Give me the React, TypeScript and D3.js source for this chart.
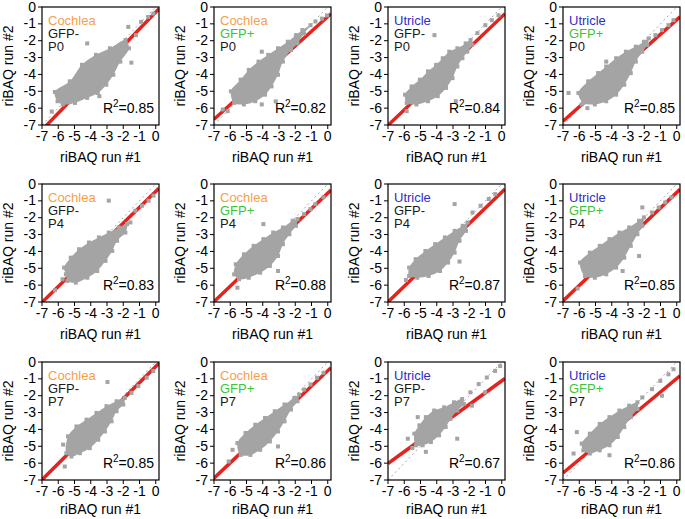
import * as d3 from 'd3'

// panel annotations, row by row
const tissue = ['Cochlea', 'Cochlea', 'Utricle', 'Utricle', 'Cochlea', 'Cochlea', 'Utricle', 'Utricle', 'Cochlea', 'Cochlea', 'Utricle', 'Utricle']
const gfp = ['GFP-', 'GFP+', 'GFP-', 'GFP+', 'GFP-', 'GFP+', 'GFP-', 'GFP+', 'GFP-', 'GFP+', 'GFP-', 'GFP+']
const stage = ['P0', 'P0', 'P0', 'P0', 'P4', 'P4', 'P4', 'P4', 'P7', 'P7', 'P7', 'P7']
const rSquared = ['0.85', '0.82', '0.84', '0.85', '0.83', '0.88', '0.87', '0.85', '0.85', '0.86', '0.67', '0.86']

// linear fit (red line)
const fitSlope = [1.0, 0.87, 0.92, 0.86, 0.94, 0.92, 0.93, 0.92, 0.96, 0.91, 0.7, 0.8]
const fitIntercept = [-0.3, -0.57, -0.58, -0.76, -0.44, -0.54, -0.49, -0.5, -0.27, -0.52, -1.12, -0.98]

const axisTicks = [-7, -6, -5, -4, -3, -2, -1, 0]

// outline of the dense point cloud in each panel (run #1, run #2)
const cloudOutlines: [number, number][][] = [
  [[-6.21, -5.04], [-5.29, -4.41], [-4.54, -3.43], [-3.68, -2.84], [-2.82, -2.45], [-1.86, -1.96], [-1.65, -2.45], [-2.18, -3.24], [-2.61, -4.02], [-3.04, -4.61], [-3.57, -5.1], [-4.22, -5.39], [-4.97, -5.69], [-5.72, -5.78], [-6.04, -5.59]],
  [[-5.96, -5.0], [-5.36, -4.31], [-4.86, -3.73], [-4.26, -3.24], [-3.66, -2.84], [-3.06, -2.45], [-2.46, -2.06], [-1.96, -1.67], [-1.56, -1.37], [-1.06, -1.08], [-1.46, -1.57], [-1.86, -2.16], [-2.26, -2.55], [-2.76, -3.24], [-3.06, -4.02], [-3.46, -4.71], [-3.86, -5.2], [-4.46, -5.59], [-5.16, -5.78], [-5.76, -5.69]],
  [[-5.95, -5.2], [-5.55, -4.71], [-5.04, -4.31], [-4.54, -3.82], [-4.04, -3.43], [-3.63, -3.04], [-3.23, -2.65], [-2.73, -2.45], [-2.22, -2.16], [-1.92, -1.96], [-1.82, -2.25], [-2.12, -2.65], [-2.42, -3.04], [-2.73, -3.53], [-3.03, -4.22], [-3.43, -4.8], [-3.94, -5.29], [-4.54, -5.59], [-5.25, -5.78], [-5.85, -5.69]],
  [[-6.05, -5.1], [-5.45, -4.41], [-4.84, -3.92], [-4.34, -3.53], [-3.73, -3.04], [-3.13, -2.65], [-2.52, -2.35], [-2.02, -2.06], [-1.72, -1.86], [-1.82, -2.25], [-2.12, -2.65], [-2.52, -3.24], [-2.83, -3.92], [-3.23, -4.61], [-3.73, -5.2], [-4.34, -5.59], [-5.04, -5.78], [-5.75, -5.69]],
  [[-5.64, -4.96], [-5.23, -4.37], [-4.72, -3.87], [-4.11, -3.47], [-3.5, -3.17], [-2.89, -2.88], [-2.27, -2.58], [-1.77, -2.38], [-1.87, -2.88], [-2.38, -3.37], [-2.68, -3.97], [-3.09, -4.56], [-3.6, -5.16], [-4.21, -5.56], [-4.92, -5.85], [-5.43, -5.75], [-5.53, -5.36]],
  [[-5.66, -4.76], [-5.16, -4.17], [-4.56, -3.67], [-3.96, -3.27], [-3.36, -2.88], [-2.76, -2.58], [-2.16, -2.18], [-1.86, -2.08], [-1.96, -2.48], [-2.36, -2.98], [-2.76, -3.57], [-3.06, -4.27], [-3.56, -4.86], [-4.16, -5.26], [-4.86, -5.56], [-5.46, -5.65], [-5.76, -5.36]],
  [[-5.7, -4.96], [-5.3, -4.46], [-4.7, -3.97], [-4.1, -3.57], [-3.5, -3.17], [-2.9, -2.78], [-2.4, -2.48], [-2.1, -2.28], [-2.2, -2.78], [-2.6, -3.37], [-2.9, -4.07], [-3.3, -4.66], [-3.8, -5.16], [-4.5, -5.46], [-5.2, -5.56], [-5.7, -5.46]],
  [[-5.95, -4.66], [-5.35, -4.07], [-4.74, -3.67], [-4.14, -3.27], [-3.53, -2.88], [-2.93, -2.58], [-2.32, -2.18], [-2.02, -1.98], [-2.12, -2.48], [-2.42, -2.98], [-2.83, -3.67], [-3.23, -4.37], [-3.73, -4.96], [-4.34, -5.36], [-5.04, -5.56], [-5.65, -5.46]],
  [[-5.4, -4.41], [-4.88, -3.82], [-4.26, -3.42], [-3.65, -3.02], [-3.03, -2.62], [-2.41, -2.33], [-1.9, -2.13], [-2.0, -2.52], [-2.41, -2.92], [-2.72, -3.52], [-3.13, -4.12], [-3.54, -4.61], [-4.06, -5.11], [-4.67, -5.41], [-5.19, -5.61], [-5.5, -5.41]],
  [[-5.56, -4.81], [-5.06, -4.21], [-4.46, -3.72], [-3.86, -3.32], [-3.26, -2.92], [-2.66, -2.52], [-2.06, -2.13], [-1.76, -1.93], [-1.86, -2.33], [-2.26, -2.82], [-2.66, -3.52], [-3.06, -4.12], [-3.56, -4.71], [-4.16, -5.21], [-4.76, -5.51], [-5.36, -5.51]],
  [[-5.38, -4.25], [-5.07, -3.76], [-4.67, -3.27], [-4.16, -2.88], [-3.55, -2.69], [-2.94, -2.39], [-2.44, -2.2], [-2.33, -2.49], [-2.74, -2.88], [-3.15, -3.37], [-3.45, -3.86], [-3.86, -4.35], [-4.36, -4.75], [-4.87, -4.94], [-5.28, -4.94]],
  [[-5.85, -4.84], [-5.35, -4.25], [-4.74, -3.67], [-4.14, -3.27], [-3.53, -2.88], [-2.93, -2.59], [-2.42, -2.39], [-2.42, -2.78], [-2.83, -3.27], [-3.23, -3.86], [-3.63, -4.45], [-4.14, -4.94], [-4.74, -5.24], [-5.35, -5.43], [-5.75, -5.24]],
]

// sparse proteins outside the dense cloud
const strayPoints: [number, number][][] = [
  [[-4.22, -2.16], [-1.69, -1.18], [-1.22, -1.67], [-0.9, -0.88], [-0.47, -0.59], [-0.15, -0.39], [-6.4, -6.2], [-3.47, -5.29], [-1.5, -3.3]],
  [[-6.46, -6.08], [-6.16, -6.18], [-4.06, -2.65], [-4.06, -5.78], [-0.76, -0.86], [-0.36, -0.69], [-0.05, -0.5], [-3.2, -5.6]],
  [[-4.14, -1.67], [-1.01, -1.08], [-0.61, -0.78], [-0.2, -0.49], [-5.85, -6.18], [-2.83, -5.59], [-1.5, -1.55]],
  [[-6.66, -5.1], [-5.85, -5.78], [-4.34, -3.24], [-1.31, -1.67], [-0.91, -1.37], [-0.51, -1.08], [-0.2, -0.78], [-5.5, -6.0]],
  [[-2.89, -0.99], [-5.74, -5.65], [-1.26, -1.59], [-0.85, -1.29], [-0.44, -0.99], [-0.14, -0.69], [-1.56, -2.28], [-6.2, -6.3]],
  [[-3.96, -2.38], [-5.56, -6.15], [-1.46, -1.79], [-1.06, -1.49], [-0.76, -1.19], [-0.26, -0.79], [-3.06, -5.16]],
  [[-2.9, -1.19], [-1.8, -1.69], [-1.3, -1.29], [-0.8, -0.89], [-0.4, -0.6], [-5.9, -5.7], [-2.6, -4.6]],
  [[-2.12, -1.39], [-2.32, -4.27], [-3.33, -5.16], [-1.52, -1.69], [-1.11, -1.39], [-0.71, -1.09], [-0.31, -0.79], [-6.1, -6.2]],
  [[-2.97, -1.19], [-5.6, -6.2], [-1.49, -1.83], [-1.07, -1.43], [-0.56, -0.93], [-0.15, -0.54], [-5.7, -4.9]],
  [[-5.86, -5.21], [-3.06, -5.01], [-1.46, -1.63], [-1.06, -1.33], [-0.66, -0.93], [-0.26, -0.64], [-6.1, -5.9]],
  [[-5.17, -3.27], [-5.78, -4.55], [-4.67, -5.33], [-2.74, -4.55], [-1.02, -1.8], [-1.83, -2.59], [-1.42, -1.31], [-0.92, -0.92], [-0.41, -0.53], [-0.1, -0.24], [-1.93, -1.8], [-5.5, -5.1]],
  [[-6.15, -4.16], [-6.35, -5.43], [-4.14, -5.53], [-2.12, -2.1], [-0.91, -2.0], [-1.52, -1.61], [-1.01, -1.12], [-0.51, -0.73], [-0.2, -0.43]],
]

const colLeft = [42, 214, 388, 563]
const rowTop = [7, 184, 362]
const titleGap = [37, 37, 34]
const W = 117
const H = 118
const font = '"Liberation Sans", Arial, sans-serif'
const gray = '#a4a4a4'

const tissueColor: Record<string, string> = { Cochlea: '#f5a04c', Utricle: '#2f2fc4' }

function Panel({ i }: { i: number }) {
  const row = Math.floor(i / 4)
  const left = colLeft[i % 4]
  const top = rowTop[row]
  const x = d3.scaleLinear().domain([-7, 0.2]).range([left, left + W])
  const y = d3.scaleLinear().domain([-7, 0]).range([top + H, top])

  const line = d3.line<[number, number]>().x((d) => x(d[0])).y((d) => y(d[1]))
  const cloud = d3
    .line<[number, number]>()
    .x((d) => x(d[0]))
    .y((d) => y(d[1]))
    .curve(d3.curveCatmullRomClosed)

  const fit: [number, number][] = [-7, 0.2].map((v) => [v, fitSlope[i] * v + fitIntercept[i]])
  const diag: [number, number][] = [[-7, -7], [0.2, 0.2]]
  const pts = [...cloudOutlines[i], ...strayPoints[i]]

  return (
    <g>
      <defs>
        <clipPath id={`clip${i}`}>
          <rect x={left} y={top} width={W} height={H} />
        </clipPath>
      </defs>
      <g clipPath={`url(#clip${i})`}>
        <path d={line(diag) ?? ''} stroke="#a8a8a8" strokeWidth={1} strokeDasharray="2,3" fill="none" />
        <path d={line(fit) ?? ''} stroke="#e5231d" strokeWidth={3.5} fill="none" />
        <path d={cloud(cloudOutlines[i]) ?? ''} fill={gray} />
        {pts.map((d, k) => (
          <rect key={k} x={x(d[0]) - 2} y={y(d[1]) - 2} width={4} height={4} fill={gray} />
        ))}
      </g>
      <rect x={left} y={top} width={W} height={H} fill="none" stroke="#000" strokeWidth={1.2} />

      {axisTicks.map((t) => (
        <g key={`x${t}`}>
          <line x1={x(t)} x2={x(t)} y1={top + H} y2={top + H + 4} stroke="#000" />
          <text x={x(t)} y={top + H + 16} textAnchor="middle" fontSize={14}>
            {t}
          </text>
        </g>
      ))}
      {axisTicks.map((t) => (
        <g key={`y${t}`}>
          <line x1={left - 4} x2={left} y1={y(t)} y2={y(t)} stroke="#000" />
          <text x={left - 6} y={y(t) + 4.5} textAnchor="end" fontSize={14}>
            {t}
          </text>
        </g>
      ))}

      <text x={left + W / 2} y={top + H + titleGap[row]} textAnchor="middle" fontSize={14}>
        riBAQ run #1
      </text>
      <text
        transform={`translate(${left - 29},${top + H / 2}) rotate(-90)`}
        textAnchor="middle"
        fontSize={14}
      >
        riBAQ run #2
      </text>

      <text x={left + 6} y={top + 18} fontSize={13} fill={tissueColor[tissue[i]]}>
        {tissue[i]}
      </text>
      <text x={left + 6} y={top + 31} fontSize={13} fill={gfp[i] === 'GFP+' ? '#3cc43c' : '#1a1a1a'}>
        {gfp[i]}
      </text>
      <text x={left + 6} y={top + 44} fontSize={13} fill="#1a1a1a">
        {stage[i]}
      </text>
      <text x={left + W - 5} y={top + H - 12} textAnchor="end" fontSize={14}>
        R
        <tspan dy={-6} fontSize={10}>
          2
        </tspan>
        <tspan dy={6}>={rSquared[i]}</tspan>
      </text>
    </g>
  )
}

export default function App() {
  return (
    <svg
      width={685}
      height={519}
      style={{ position: 'absolute', left: 0, top: 0, background: '#fff', fontFamily: font }}
    >
      {tissue.map((_, i) => (
        <Panel key={i} i={i} />
      ))}
    </svg>
  )
}
